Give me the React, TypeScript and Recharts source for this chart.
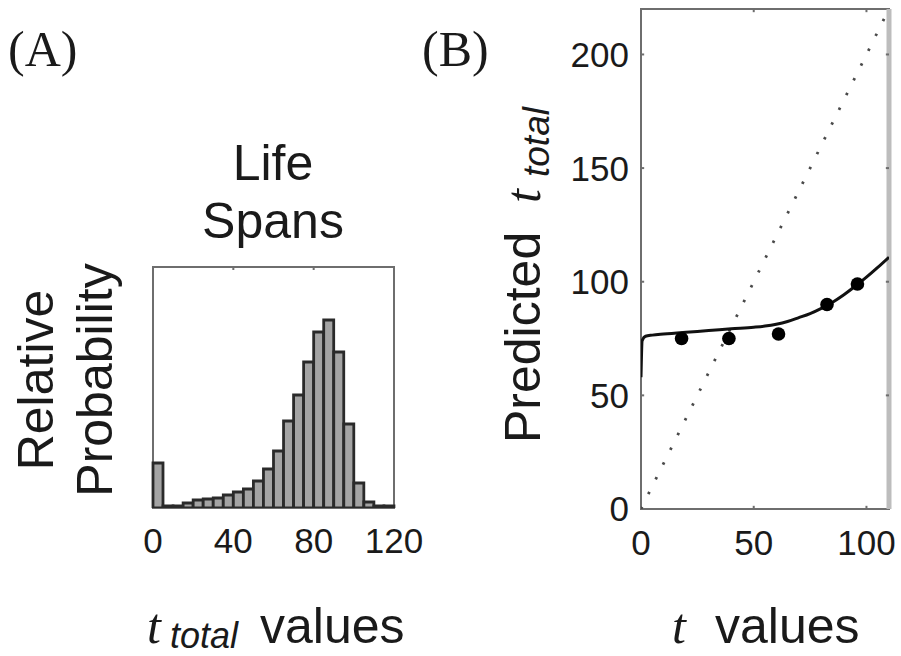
import {
  BarChart, Bar, XAxis, YAxis, ReferenceArea, ReferenceLine,
  ComposedChart, Line, Scatter,
} from 'recharts'

// ── Panel A: life span histogram (5-year bins) ────────────────────────────────
const binCenters = [
  2.5, 7.5, 12.5, 17.5, 22.5, 27.5, 32.5, 37.5, 42.5, 47.5, 52.5, 57.5,
  62.5, 67.5, 72.5, 77.5, 82.5, 87.5, 92.5, 97.5, 102.5, 107.5, 112.5, 117.5,
]
const binFreq = [
  45, 2, 2, 5, 8, 9, 10, 13, 16, 19, 27, 39,
  57, 87, 113, 146, 176, 188, 156, 84, 25, 6, 2, 2,
]
const histTicks = [0, 40, 80, 120]

// ── Panel B: predicted total vs. current t ────────────────────────────────────
const curveT    = [0, 0.5, 2, 5, 10, 20, 30, 40, 50, 55, 60, 65, 70, 75, 80, 85, 90, 95, 100, 105, 110]
const curvePred = [58, 74, 76, 76.5, 77, 77.8, 78.5, 79.3, 80, 80.5, 81.3, 82.5, 84.2, 86, 88.3, 91, 94.3, 98, 102, 106.3, 110.8]
const obsT      = [18, 39, 61, 82.5, 96]
const obsPred   = [75, 75, 77, 90, 99]
const diagT     = [0, 110]
const diagPred  = [0, 220]
const predXTicks = [0, 50, 100]
const predYTicks = [0, 50, 100, 150, 200]

const SANS  = '"Liberation Sans", Arial, sans-serif'
const SERIF = '"Liberation Serif", "Times New Roman", serif'
const FRAME = '#6e6e6e'
const INK   = '#1a1a1a'

const histData  = binCenters.map((mid, i) => ({ mid, freq: binFreq[i] }))
const curveData = curveT.map((t, i) => ({ t, pred: curvePred[i] }))
const obsData   = obsT.map((t, i) => ({ t, pred: obsPred[i] }))
const diagData  = diagT.map((t, i) => ({ t, pred: diagPred[i] }))

const tickStyle = { fontSize: 35, fill: INK, fontFamily: SANS }

function Dot(props: { cx?: number; cy?: number }) {
  if (props.cx == null || props.cy == null) return null
  return <circle cx={props.cx} cy={props.cy} r={6.8} fill="#000" />
}

function LifeSpanHistogram() {
  return (
    <BarChart
      width={350}
      height={330}
      data={histData}
      margin={{ top: 17, right: 56, left: 53, bottom: 32 }}
      barCategoryGap={0}
      barGap={0}
    >
      <XAxis
        dataKey="mid"
        type="number"
        domain={[0, 120]}
        ticks={histTicks}
        height={40}
        axisLine={false}
        tickLine={false}
        tickSize={0}
        tickMargin={20}
        tick={tickStyle}
        interval={0}
      />
      <YAxis hide domain={[0, 241]} allowDataOverflow />
      <Bar
        dataKey="freq"
        fill="#a4a4a4"
        stroke="#2a2a2a"
        strokeWidth={2.8}
        isAnimationActive={false}
      />
      <ReferenceArea x1={0} x2={120} y1={0} y2={241} fill="none" stroke={FRAME} strokeWidth={2} ifOverflow="visible" />
      {[40, 80].map(v => (
        <ReferenceLine key={`t${v}`} segment={[{ x: v, y: 241 }, { x: v, y: 238 }]} stroke={FRAME} strokeWidth={2} />
      ))}
    </BarChart>
  )
}

function PredictionChart() {
  return (
    <ComposedChart
      width={361}
      height={580}
      margin={{ top: 9, right: 12, left: 0, bottom: 21 }}
    >
      <XAxis
        dataKey="t"
        type="number"
        domain={[0, 110]}
        ticks={predXTicks}
        height={50}
        axisLine={false}
        tickLine={false}
        tickSize={0}
        tickMargin={21}
        tick={tickStyle}
        interval={0}
        allowDataOverflow
      />
      <YAxis
        type="number"
        domain={[0, 220]}
        ticks={predYTicks}
        width={101}
        axisLine={false}
        tickLine={false}
        tickSize={0}
        tickMargin={12}
        tick={tickStyle}
        interval={0}
        allowDataOverflow
      />
      <ReferenceLine x={110} stroke="#bdbdbd" strokeWidth={5} ifOverflow="visible" />
      <ReferenceArea x1={0} x2={110} y1={0} y2={220} fill="none" stroke={FRAME} strokeWidth={2} ifOverflow="visible" />
      {[50, 100, 150, 200].map(v => (
        <ReferenceLine key={`l${v}`} segment={[{ x: 0, y: v }, { x: 1.4, y: v }]} stroke={FRAME} strokeWidth={2} />
      ))}
      {[50, 100, 150, 200].map(v => (
        <ReferenceLine key={`r${v}`} segment={[{ x: 108.6, y: v }, { x: 110, y: v }]} stroke={FRAME} strokeWidth={2} />
      ))}
      {[50, 100].map(v => (
        <ReferenceLine key={`b${v}`} segment={[{ x: v, y: 0 }, { x: v, y: 1.4 }]} stroke={FRAME} strokeWidth={2} />
      ))}
      {[50, 100].map(v => (
        <ReferenceLine key={`u${v}`} segment={[{ x: v, y: 218.6 }, { x: v, y: 220 }]} stroke={FRAME} strokeWidth={2} />
      ))}
      <Line
        data={diagData}
        dataKey="pred"
        type="linear"
        stroke="#4a4a4a"
        strokeWidth={2.8}
        strokeDasharray="2.5 14"
        dot={false}
        activeDot={false}
        isAnimationActive={false}
      />
      <Line
        data={curveData}
        dataKey="pred"
        type="monotone"
        stroke="#111"
        strokeWidth={3}
        dot={false}
        activeDot={false}
        isAnimationActive={false}
      />
      <Scatter
        data={obsData}
        dataKey="pred"
        shape={<Dot />}
        isAnimationActive={false}
      />
    </ComposedChart>
  )
}

export default function App() {
  return (
    <div style={{ position: 'absolute', left: 0, top: 0, width: 901, height: 656, background: '#fff', overflow: 'hidden' }}>
      <div style={{ position: 'absolute', left: 100, top: 250 }}>
        <LifeSpanHistogram />
      </div>
      <div style={{ position: 'absolute', left: 540, top: 0 }}>
        <PredictionChart />
      </div>
      <svg
        width={901}
        height={656}
        style={{ position: 'absolute', left: 0, top: 0, pointerEvents: 'none' }}
      >
        <g fill={INK}>
          <text x={8} y={66} fontFamily={SERIF} fontSize={50}>(A)</text>
          <text x={422} y={66} fontFamily={SERIF} fontSize={50}>(B)</text>

          <text x={273} y={180} fontFamily={SANS} fontSize={50} textAnchor="middle">Life</text>
          <text x={273} y={238} fontFamily={SANS} fontSize={50} textAnchor="middle">Spans</text>

          <text transform="translate(53,380) rotate(-90)" fontFamily={SANS} fontSize={50} textAnchor="middle">Relative</text>
          <text transform="translate(112,380) rotate(-90)" fontFamily={SANS} fontSize={50} textAnchor="middle">Probability</text>

          <text y={643}>
            <tspan x={147} fontFamily={SERIF} fontStyle="italic" fontSize={50}>t</tspan>
            <tspan x={170} y={648} fontFamily={SANS} fontStyle="italic" fontSize={36}>total</tspan>
            <tspan x={260} y={643} fontFamily={SANS} fontSize={50}>values</tspan>
          </text>

          <text y={643}>
            <tspan x={672} fontFamily={SERIF} fontStyle="italic" fontSize={50}>t</tspan>
            <tspan x={715} fontFamily={SANS} fontSize={50}>values</tspan>
          </text>

          <text transform="translate(540,443) rotate(-90)">
            <tspan x={0} y={0} fontFamily={SANS} fontSize={50}>Predicted</tspan>
            <tspan x={240} y={0} fontFamily={SERIF} fontStyle="italic" fontSize={50}>t</tspan>
            <tspan x={266} y={9} fontFamily={SANS} fontStyle="italic" fontSize={37}>total</tspan>
          </text>
        </g>
      </svg>
    </div>
  )
}
